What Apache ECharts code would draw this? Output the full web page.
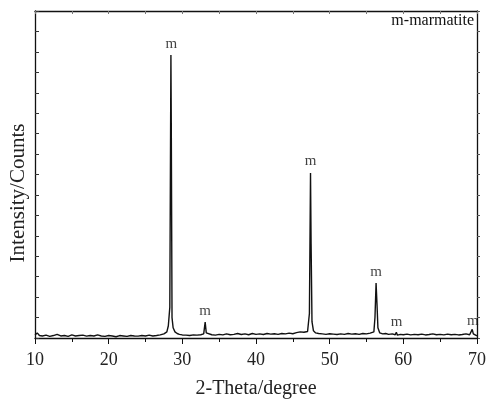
<!DOCTYPE html>
<html><head><meta charset="utf-8">
<script src="https://cdn.jsdelivr.net/npm/echarts@6/dist/echarts.min.js"></script>
<style>html,body{margin:0;padding:0;background:#fff}#c{width:488px;height:399px}</style>
</head><body><div id="c"></div>
<script>
// XRD pattern: 2-theta (degree) and intensity (arbitrary units, axis 0..16)
const twoTheta = [10.0,10.3,10.6,11.0,11.5,12.0,12.5,13.0,13.5,14.0,14.5,15.0,15.5,16.0,16.5,17.0,17.5,18.0,18.5,19.0,19.5,20.0,20.5,21.0,21.5,22.0,22.5,23.0,23.5,24.0,24.5,25.0,25.5,26.0,26.5,27.0,27.5,27.9,28.1,28.3,28.45,28.5,28.6,28.75,29.0,29.3,29.6,30.0,30.5,31.0,31.5,32.0,32.5,32.9,33.1,33.25,33.5,34.0,34.5,35.0,35.5,36.0,36.5,37.0,37.5,38.0,38.5,39.0,39.5,40.0,40.5,41.0,41.5,42.0,42.5,43.0,43.5,44.0,44.5,45.0,45.5,46.0,46.5,47.0,47.25,47.4,47.48,47.6,47.8,48.1,48.5,49.0,49.5,50.0,50.5,51.0,51.5,52.0,52.5,53.0,53.5,54.0,54.5,55.0,55.5,56.0,56.15,56.3,56.42,56.55,56.8,57.2,57.6,58.0,58.5,58.9,59.05,59.2,59.6,60.0,60.5,61.0,61.5,62.0,62.5,63.0,63.5,64.0,64.5,65.0,65.5,66.0,66.5,67.0,67.5,68.0,68.5,69.0,69.2,69.35,69.5,69.7,70.0];
const intensity = [0.15,0.25,0.12,0.10,0.14,0.08,0.12,0.18,0.10,0.12,0.08,0.15,0.10,0.12,0.14,0.09,0.12,0.10,0.15,0.10,0.08,0.12,0.10,0.06,0.12,0.10,0.08,0.12,0.10,0.09,0.12,0.10,0.14,0.10,0.12,0.15,0.20,0.30,0.60,1.50,13.85,10.5,1.00,0.50,0.30,0.22,0.18,0.15,0.14,0.12,0.15,0.14,0.16,0.20,0.78,0.25,0.18,0.16,0.14,0.18,0.15,0.20,0.16,0.18,0.22,0.17,0.20,0.16,0.22,0.18,0.20,0.17,0.22,0.19,0.21,0.18,0.22,0.20,0.24,0.21,0.26,0.30,0.28,0.32,1.20,8.07,4.60,0.80,0.35,0.25,0.22,0.20,0.18,0.21,0.19,0.17,0.20,0.18,0.22,0.19,0.21,0.18,0.22,0.20,0.24,0.30,1.00,2.69,1.70,0.50,0.25,0.20,0.22,0.18,0.20,0.16,0.28,0.14,0.18,0.16,0.19,0.15,0.18,0.16,0.19,0.15,0.17,0.20,0.16,0.18,0.15,0.19,0.16,0.18,0.15,0.17,0.20,0.16,0.15,0.42,0.20,0.12,0.10];
const peakX = [28.5,33.1,47.4,56.3,59.1,69.45];
const peakLabelY = [14.4,1.3,8.65,3.25,0.8,0.85];

const font = 'Liberation Serif';
const series = twoTheta.map((x,i)=>[x,intensity[i]]);
const chart = echarts.init(document.getElementById('c'));
chart.setOption({
  animation:false,
  grid:{left:35,right:11,top:11,bottom:61,containLabel:false,outerBoundsMode:'none'},
  xAxis:[{
    type:'value',min:10,max:70,interval:10,position:'bottom',
    name:'2-Theta/degree',nameLocation:'middle',nameGap:41,
    nameTextStyle:{fontFamily:font,fontSize:20,color:'#222'},
    axisLine:{onZero:false,lineStyle:{color:'#111',width:1.3}},
    axisTick:{inside:false,length:6,lineStyle:{color:'#111'}},
    minorTick:{show:true,splitNumber:2,length:4,lineStyle:{color:'#111'}},
    axisLabel:{fontFamily:font,fontSize:18,color:'#222',margin:13},
    splitLine:{show:false}
  },{
    type:'value',min:10,max:70,interval:5,position:'top',
    axisLine:{onZero:false,lineStyle:{color:'#111',width:1.3}},
    axisTick:{inside:true,length:3,lineStyle:{color:'#777'}},
    axisLabel:{show:false},splitLine:{show:false}
  }],
  yAxis:[{
    type:'value',min:0,max:16,interval:1,position:'left',
    axisLine:{show:true,onZero:false,lineStyle:{color:'#111',width:1.3}},
    axisTick:{inside:true,length:4,lineStyle:{color:'#333'}},
    axisLabel:{show:false},splitLine:{show:false}
  },{
    type:'value',min:0,max:16,interval:1,position:'right',
    axisLine:{show:true,onZero:false,lineStyle:{color:'#111',width:1.3}},
    axisTick:{inside:false,length:3,lineStyle:{color:'#555'}},
    axisLabel:{show:false},splitLine:{show:false}
  }],
  series:[{
    type:'line',data:series,showSymbol:false,symbol:'none',
    lineStyle:{color:'#111',width:1.4},z:3
  },{
    type:'scatter',data:peakX.map((x,i)=>[x,peakLabelY[i]]),symbolSize:0,
    label:{show:true,formatter:'m',position:'inside',fontFamily:font,fontSize:15,color:'#111'},
    z:4
  }],
  graphic:[
    {type:'text',right:14,top:13,style:{text:'m-marmatite',fontFamily:font,fontSize:16,fill:'#111'}},
    {type:'text',x:18,y:193,rotation:Math.PI/2,style:{text:'Intensity/Counts',fontFamily:font,fontSize:21,fill:'#222',align:'center',verticalAlign:'middle'}}
  ]
});
</script></body></html>
